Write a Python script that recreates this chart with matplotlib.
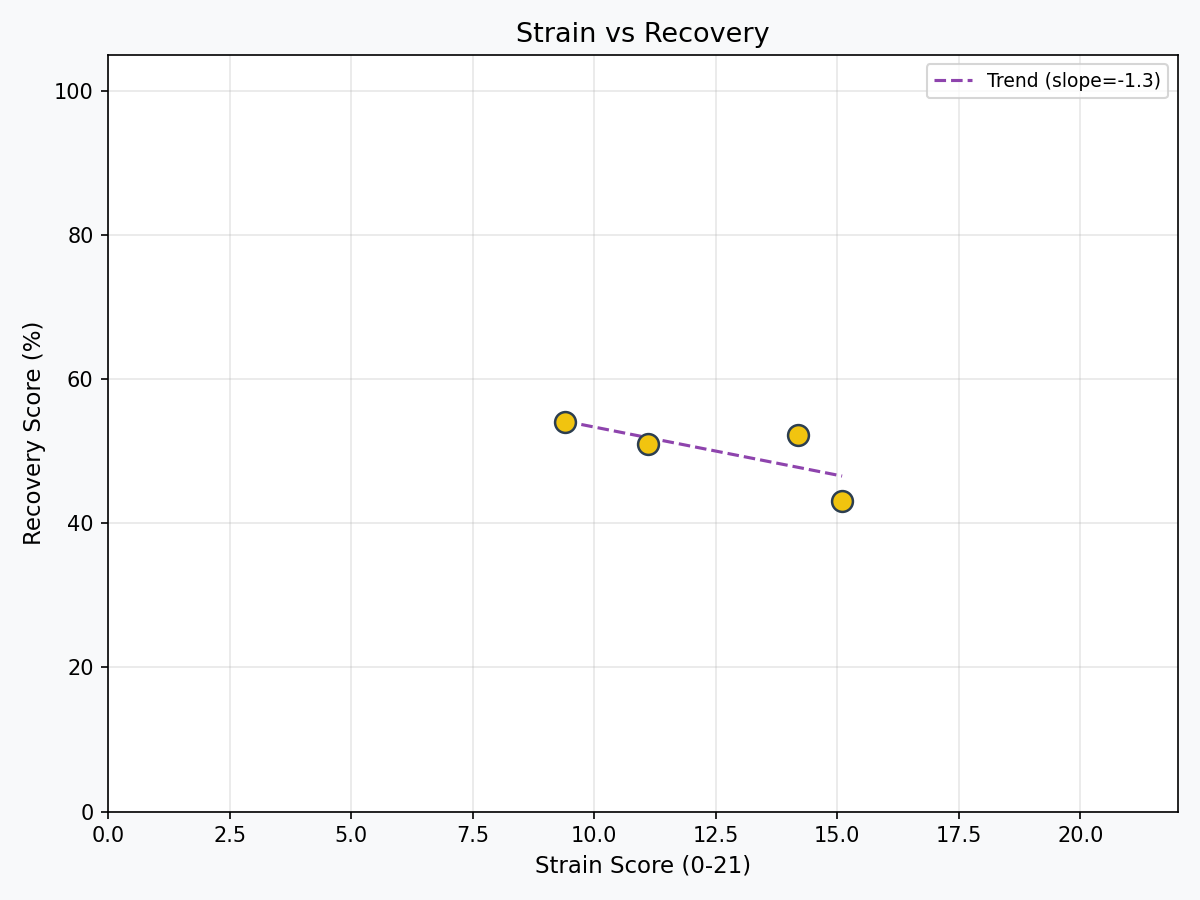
import matplotlib
matplotlib.use('Agg')
from matplotlib import pyplot as plt
import numpy as np

strain = [9.4, 11.1, 14.2, 15.1]
recovery = [54.1, 51.0, 52.2, 43.1]

x = np.array(strain)
y = np.array(recovery)
slope, intercept = np.polyfit(x, y, 1)
xs = np.array([x.min(), x.max()])

fig, ax = plt.subplots(figsize=(8, 6), dpi=150)
fig.patch.set_facecolor('#f8f9fa')
ax.set_facecolor('white')

ax.plot(xs, slope * xs + intercept, '--', color='#8e44ad', linewidth=1.5,
        label=f'Trend (slope={slope:.1f})')
ax.scatter(x, y, s=100, color='#f1c40f', edgecolor='#2c3e50', linewidth=1.2, zorder=3)

ax.set_xlim(0, 22)
ax.set_ylim(0, 105)
ax.set_xlabel('Strain Score (0-21)', fontsize=11)
ax.set_ylabel('Recovery Score (%)', fontsize=11)
ax.set_title('Strain vs Recovery', fontsize=13)
ax.grid(True, alpha=0.3)
ax.legend(loc='upper right', fontsize=9)

plt.tight_layout()
plt.savefig('out.png', dpi=150, facecolor=fig.get_facecolor())
